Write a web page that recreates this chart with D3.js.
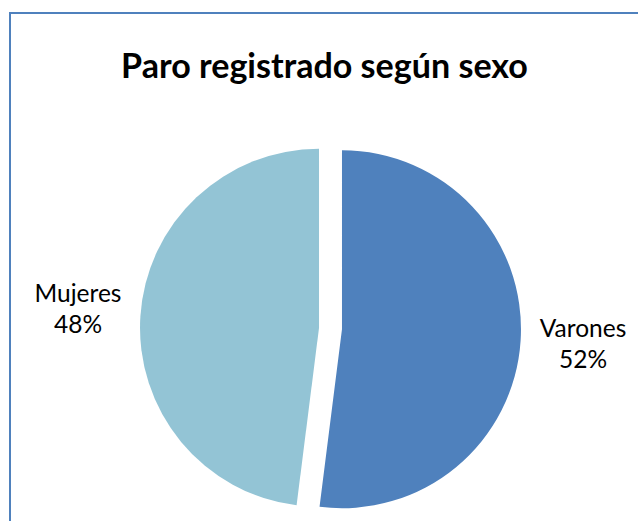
<!DOCTYPE html>
<html>
<head>
<meta charset="utf-8">
<script src="https://cdn.jsdelivr.net/npm/d3@7"></script>
<style>
  body { margin: 0; background: #fff; }
</style>
</head>
<body>
<script>
// Datos del gráfico
const categorias = ["Varones", "Mujeres"];
const valores = [52, 48];
const etiquetas = ["52%", "48%"];
const colores = ["#4f81bd", "#93c4d5"];
const titulo = "Paro registrado según sexo";

const WIDTH = 638;
const HEIGHT = 521;

const svg = d3.select("body")
  .append("svg")
  .attr("width", WIDTH)
  .attr("height", HEIGHT);

// Marco del área del gráfico (recortado a la derecha y abajo)
svg.append("rect")
  .attr("x", 10)
  .attr("y", 13)
  .attr("width", 700)
  .attr("height", 600)
  .attr("fill", "none")
  .attr("stroke", "#4f81bd")
  .attr("stroke-width", 2);

// Título, ajustado al ancho del original
const tituloTxt = svg.append("text")
  .attr("x", 324.5)
  .attr("y", 78)
  .attr("text-anchor", "middle")
  .attr("font-family", "Lato, 'Open Sans', sans-serif")
  .attr("font-weight", "bold")
  .attr("font-size", 32)
  .attr("fill", "#000")
  .text(titulo);
const anchoTitulo = tituloTxt.node().getComputedTextLength();
tituloTxt.attr("font-size", 32 * 407 / anchoTitulo);

// Tarta
const CX = 330.5, CY = 328.5, R = 179, EXPLOSION = 11.5;

const datos = categorias.map((c, i) => ({ categoria: c, valor: valores[i], etiqueta: etiquetas[i], color: colores[i] }));

const pie = d3.pie().value(d => d.valor).sort(null);
const arco = d3.arc().innerRadius(0).outerRadius(R);

const contenedorVis = svg.append("g")
  .attr("transform", `translate(${CX}, ${CY})`);

contenedorVis.selectAll("path")
  .data(pie(datos))
  .join("path")
  .attr("d", arco)
  .attr("fill", d => d.data.color)
  .attr("transform", d => {
    const a = (d.startAngle + d.endAngle) / 2;
    return `translate(${Math.sin(a) * EXPLOSION}, ${-Math.cos(a) * EXPLOSION})`;
  });

// Etiquetas fuera de la tarta
const posEtiquetas = { "Varones": [583, 337], "Mujeres": [78, 302] };

const grupoEtiquetas = svg.selectAll("g.etiqueta")
  .data(datos)
  .join("g")
  .attr("class", "etiqueta")
  .attr("transform", d => `translate(${posEtiquetas[d.categoria][0]}, ${posEtiquetas[d.categoria][1]})`);

grupoEtiquetas.append("text")
  .attr("text-anchor", "middle")
  .attr("font-family", "Lato, 'Open Sans', sans-serif")
  .attr("font-size", 24.5)
  .attr("fill", "#000")
  .text(d => d.categoria);

grupoEtiquetas.append("text")
  .attr("text-anchor", "middle")
  .attr("y", 31)
  .attr("font-family", "Lato, 'Open Sans', sans-serif")
  .attr("font-size", 24.5)
  .attr("fill", "#000")
  .text(d => d.etiqueta);
</script>
</body>
</html>
